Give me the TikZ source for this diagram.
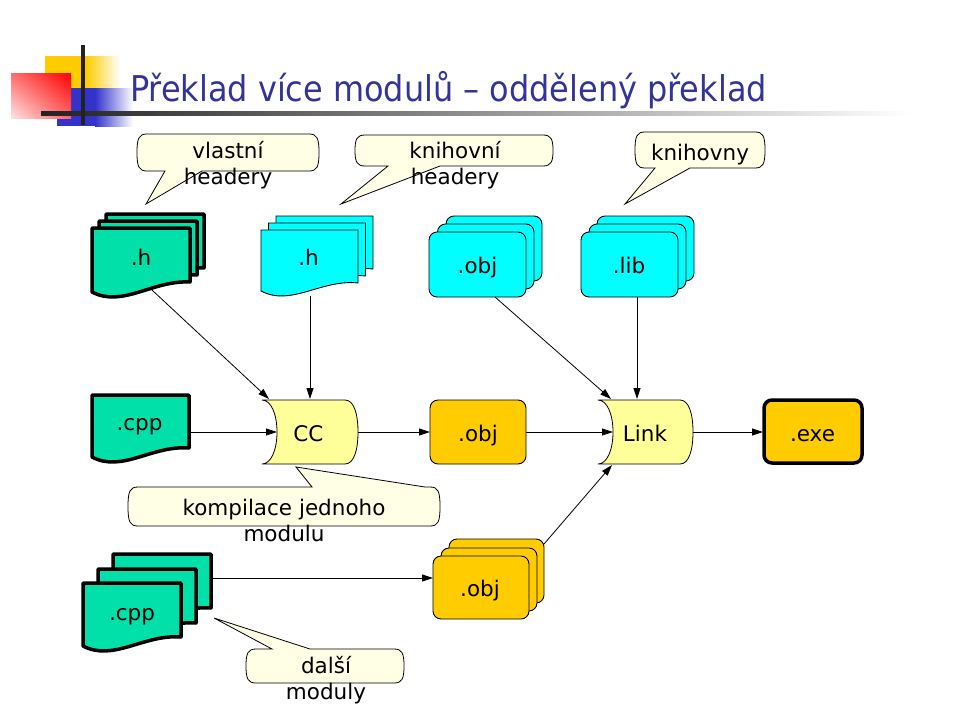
\documentclass[tikz,border=0pt]{standalone}
\usepackage{fontspec}
\setmainfont{DejaVu Sans}
\newfontfamily\titlefont{DejaVu Sans Condensed}
\usetikzlibrary{arrows.meta,shadings}
\definecolor{docgreen}{RGB}{0,224,168}
\definecolor{doccyan}{RGB}{0,255,255}
\definecolor{objorange}{RGB}{255,204,0}
\definecolor{procyellow}{RGB}{255,255,153}
\definecolor{callfill}{RGB}{255,255,230}
\definecolor{titleblue}{RGB}{51,51,153}
\definecolor{logoyellow}{RGB}{255,204,0}
\definecolor{logoblue}{RGB}{51,51,204}
\definecolor{linegray}{RGB}{34,34,34}
\definecolor{redA}{RGB}{255,0,0}
\definecolor{redB}{RGB}{255,110,110}
\definecolor{redC}{RGB}{255,100,100}
\definecolor{redD}{RGB}{255,228,228}

% document sheet: style, x0, y0, x1, y-left-bottom, y-right-bottom
\newcommand{\docsheet}[6]{\draw[#1] (#2,#3) -- (#4,#3) -- (#4,#6)
  .. controls ({#2+0.62*(#4-#2)},{#5-12}) and ({#2+0.31*(#4-#2)},{#5+16}) .. (#2,#5) -- cycle;}
% process (stored data) shape: x0, x1 (right corner)
\newcommand{\procshape}[2]{\draw[procstyle] (#1,400) -- (#2,400)
  .. controls ({#2+9},400) and ({#2+13},414) .. ({#2+13},432)
  .. controls ({#2+13},450) and ({#2+9},464) .. (#2,464) -- (#1,464)
  .. controls ({#1+9},464) and ({#1+15},450) .. ({#1+15},432)
  .. controls ({#1+15},414) and ({#1+9},400) .. (#1,400) -- cycle;}
% callout with tail at bottom: x0 y0 x1 y1 a b tipx tipy
\newcommand{\calloutB}[8]{\draw[callstyle] ({#1+10},#2) -- ({#3-10},#2)
  .. controls ({#3-2},#2) and (#3,{#2+4}) .. (#3,{(#2+#4)/2})
  .. controls (#3,{#4-4}) and ({#3-2},#4) .. ({#3-10},#4)
  -- (#6,#4) -- (#7,#8) -- (#5,#4) -- ({#1+10},#4)
  .. controls ({#1+2},#4) and (#1,{#4-4}) .. (#1,{(#2+#4)/2})
  .. controls (#1,{#2+4}) and ({#1+2},#2) .. ({#1+10},#2) -- cycle;}
% callout with tail at top: x0 y0 x1 y1 a b tipx tipy
\newcommand{\calloutT}[8]{\draw[callstyle] ({#1+10},#2) -- (#5,#2) -- (#7,#8) -- (#6,#2) -- ({#3-10},#2)
  .. controls ({#3-2},#2) and (#3,{#2+4}) .. (#3,{(#2+#4)/2})
  .. controls (#3,{#4-4}) and ({#3-2},#4) .. ({#3-10},#4)
  -- ({#1+10},#4)
  .. controls ({#1+2},#4) and (#1,{#4-4}) .. (#1,{(#2+#4)/2})
  .. controls (#1,{#2+4}) and ({#1+2},#2) .. ({#1+10},#2) -- cycle;}

\begin{document}
\begin{tikzpicture}[x=1pt,y=-1pt,
  every node/.style={inner sep=0pt, font=\fontsize{21.5}{26}\selectfont},
  lbl/.style={anchor=base},
  thickdoc/.style={draw=black, line width=3.5pt, fill=docgreen, line join=round},
  thindoc/.style={draw=black, line width=0.9pt, fill=doccyan},
  procstyle/.style={draw=black, line width=0.8pt, fill=procyellow},
  callstyle/.style={draw=black, line width=0.8pt, fill=callfill},
  calltext/.style={align=center},
  rbox/.style={draw=black, line width=0.9pt, rounded corners=8pt},
  arr/.style={draw=black, line width=0.8pt, -{Triangle[length=11pt,width=7pt]}}]
\useasboundingbox (0,0) rectangle (960,720);

% ---------- logo ----------
\fill[logoyellow] (45,56) rectangle (86,88);
\shade[left color=logoyellow, right color=white] (86,56) rectangle (120,88);
\fill[logoblue] (57,88) rectangle (95,126);
\shade[left color=logoblue, right color=white] (95,88) rectangle (133,126);
\shade[upper left=redB, upper right=redA, lower left=redD, lower right=redC] (11,73) rectangle (71,118);
\shade[left color=linegray, right color=white] (41,111) rectangle (910,115);
\fill[linegray] (81,45) rectangle (85,125);

% ---------- title ----------
\node[anchor=base west, text=titleblue, font=\titlefont\fontsize{35.5}{40}\selectfont] (title) at (130,101)
  {Překlad více modulů – oddělený překlad};

% ---------- callouts ----------
\calloutB{137}{134}{319}{171}{165}{202}{146}{204}
\node[calltext] (c1) at (228,165) {vlastní\\headery};
\calloutB{355}{135}{553}{166}{388}{440}{341}{204}
\node[calltext] (c2) at (455,165) {knihovní\\headery};
\calloutB{635}{132}{765}{168}{655}{690}{625}{204}
\node[lbl] (c3) at (700,160) {knihovny};
\calloutT{128}{487}{440}{526}{312}{425}{296}{467}
\node[calltext] (c4) at (284,520) {kompilace jednoho\\modulu};
\calloutT{246}{649}{404}{683}{272}{310}{214}{618}
\node[calltext] (c5) at (326,680) {další\\moduly};

% ---------- green .h stack ----------
\docsheet{thickdoc}{106}{214}{204}{278}{268}
\docsheet{thickdoc}{99}{221}{197}{285}{275}
\docsheet{thickdoc}{92}{228}{190}{292}{282}
\node[lbl] (hg) at (141,265) {.h};

% ---------- cyan .h stack ----------
\docsheet{thindoc}{276}{216}{373}{277}{269}
\docsheet{thindoc}{268.5}{223}{365.5}{284}{276}
\docsheet{thindoc}{261}{230}{358}{291}{283}
\node[lbl] (hc) at (308.5,265) {.h};

% ---------- cyan .obj stack ----------
\draw[rbox, fill=doccyan] (446,216) rectangle (542,281);
\draw[rbox, fill=doccyan] (437.5,224) rectangle (534,289);
\draw[rbox, fill=doccyan] (429,232) rectangle (526,297);
\node[lbl] (objc) at (477.5,273.5) {.obj};

% ---------- cyan .lib stack ----------
\draw[rbox, fill=doccyan] (597,216) rectangle (694,281);
\draw[rbox, fill=doccyan] (589,224) rectangle (686,289);
\draw[rbox, fill=doccyan] (581,232) rectangle (678,297);
\node[lbl] (lib) at (629,273.5) {.lib};

% ---------- .cpp single ----------
\docsheet{thickdoc}{92}{395}{189}{457}{448}
\node[lbl] (cpp) at (139.5,430) {.cpp};

% ---------- CC and Link ----------
\procshape{262}{345}
\node[lbl] (cc) at (308.5,441.5) {CC};
\procshape{598}{680}
\node[lbl] (lk) at (645,441.5) {Link};

% ---------- .obj middle ----------
\draw[rbox, fill=objorange] (430,400) rectangle (526,464);
\node[lbl] (objm) at (478,441) {.obj};

% ---------- .exe ----------
\draw[draw=black, line width=3.5pt, rounded corners=8pt, fill=objorange] (764,400) rectangle (862,463);
\node[lbl] (exe) at (812.5,441.5) {.exe};

% ---------- orange .obj stack ----------
\draw[rbox, fill=objorange] (449,539) rectangle (544,603);
\draw[rbox, fill=objorange] (441,548) rectangle (537,611);
\draw[rbox, fill=objorange] (433,556) rectangle (529,619);
\node[lbl] (objs) at (480,596) {.obj};

% ---------- .cpp stack ----------
\docsheet{thickdoc}{113}{554}{211}{617}{608}
\docsheet{thickdoc}{98}{569}{196}{632}{623}
\docsheet{thickdoc}{83}{583}{181}{646}{637}
\node[lbl] (cpps) at (132,620) {.cpp};

% ---------- connector end points ----------
\coordinate (hgB) at (152,290);
\coordinate (ccTL) at (269,399);
\coordinate (hcB) at (310,296);
\coordinate (ccT) at (310,399);
\coordinate (cppR) at (190,432);
\coordinate (ccL) at (277,432);
\coordinate (ccR) at (358,432);
\coordinate (objmL) at (430,432);
\coordinate (objmR) at (526,432);
\coordinate (lkL) at (613,432);
\coordinate (lkTL) at (611,399);
\coordinate (lkT) at (637,399);
\coordinate (lkBL) at (612,465);
\coordinate (lkR) at (693,432);
\coordinate (exeL) at (763,432);
\coordinate (objcB) at (495,297);
\coordinate (libB) at (637,297);
\coordinate (objsTR) at (544,544);
\coordinate (cppsR) at (213,578);
\coordinate (objsL) at (433,578);

% ---------- connectors ----------
\draw[arr] (hgB) -- (ccTL);
\draw[arr] (hcB) -- (ccT);
\draw[arr] (cppR) -- (ccL);
\draw[arr] (ccR) -- (objmL);
\draw[arr] (objmR) -- (lkL);
\draw[arr] (objcB) -- (lkTL);
\draw[arr] (libB) -- (lkT);
\draw[arr] (objsTR) -- (lkBL);
\draw[arr] (cppsR) -- (objsL);
\draw[arr] (lkR) -- (exeL);
\end{tikzpicture}
\end{document}
